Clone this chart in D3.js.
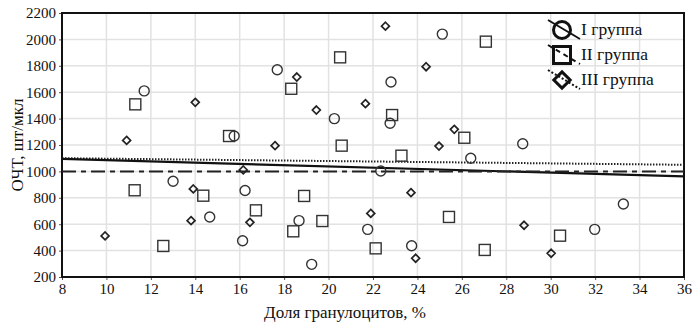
<!DOCTYPE html>
<html lang="ru">
<head>
    <meta charset="UTF-8">
    <script src="https://d3js.org/d3.v7.min.js"></script>
    <style>
        body { margin: 0; background: white; }
        text { font-family: "Liberation Serif", "DejaVu Serif", serif; fill: #111; }
    </style>
</head>
<body>
    <svg id="chart" width="697" height="326"></svg>

    <script>
        // Группа I (кружки)
        const group1 = [
            [11.7, 1610], [13.0, 925], [14.65, 655], [15.75, 1268], [16.13, 475],
            [16.24, 855], [17.69, 1770], [18.67, 627], [19.24, 296], [20.26, 1400],
            [21.76, 561], [22.35, 1003], [22.77, 1365], [22.81, 1677], [23.74, 437],
            [25.12, 2040], [26.4, 1100], [28.74, 1210], [31.98, 561], [33.27, 753]
        ];
        // Группа II (квадраты)
        const group2 = [
            [11.3, 1508], [11.27, 857], [12.56, 435], [14.36, 816], [15.52, 1268],
            [16.73, 705], [18.32, 1626], [18.41, 546], [18.9, 814], [19.72, 624],
            [20.52, 1864], [20.59, 1195], [22.12, 417], [22.86, 1427], [23.28, 1119],
            [25.42, 655], [26.11, 1255], [27.03, 405], [27.08, 1983], [30.42, 513]
        ];
        // Группа III (ромбы)
        const group3 = [
            [9.94, 511], [10.91, 1235], [13.81, 627], [13.91, 867], [14.0, 1523],
            [16.16, 1011], [16.46, 614], [17.59, 1195], [18.57, 1715], [19.45, 1465],
            [21.66, 1513], [21.9, 682], [22.56, 2100], [23.71, 839], [23.92, 342],
            [24.39, 1793], [24.97, 1192], [25.66, 1319], [28.8, 592], [30.02, 380]
        ];
        // линии тренда: значения при x = 8 и x = 36
        const trend1 = [[8, 1095], [36, 962]];
        const trend2 = [[8, 1000], [36, 1000]];
        const trend3 = [[8, 1100], [36, 1050]];

        const xTicks = d3.range(8, 37, 2);
        const yTicks = d3.range(200, 2201, 200);
        const legendLabels = ["I группа", "II группа", "III группа"];

        const serif = "'Liberation Serif', 'DejaVu Serif', serif";
        const svg = d3.select("#chart");
        const margin = { top: 13, right: 13, bottom: 49, left: 62 };
        const width = 697, height = 326;

        const x = d3.scaleLinear().domain([8, 36]).range([margin.left, width - margin.right]);
        const y = d3.scaleLinear().domain([200, 2200]).range([height - margin.bottom, margin.top]);

        // сетка
        svg.append("g")
            .selectAll("line.v")
            .data(xTicks.slice(1, -1))
            .enter().append("line")
            .attr("x1", d => x(d)).attr("x2", d => x(d))
            .attr("y1", y(200)).attr("y2", y(2200))
            .attr("stroke", "#e2e2e2").attr("stroke-width", 1.5);
        svg.append("g")
            .selectAll("line.h")
            .data(yTicks.slice(1, -1))
            .enter().append("line")
            .attr("x1", x(8)).attr("x2", x(36))
            .attr("y1", d => y(d)).attr("y2", d => y(d))
            .attr("stroke", "#e2e2e2").attr("stroke-width", 1.5);

        // оси
        const yAxis = svg.append("g")
            .attr("transform", `translate(${margin.left},0)`)
            .call(d3.axisLeft(y).tickValues(yTicks).tickFormat(d3.format("d")).tickSize(3).tickPadding(3));
        const xAxis = svg.append("g")
            .attr("transform", `translate(0,${height - margin.bottom})`)
            .call(d3.axisBottom(x).tickValues(xTicks).tickFormat(d3.format("d")).tickSize(3).tickPadding(3));
        [yAxis, xAxis].forEach(g => {
            g.attr("font-family", serif).attr("font-size", 15);
            g.select(".domain").remove();
            g.selectAll(".tick line").attr("stroke", "#555");
            g.selectAll("text").style("font-size", "15px")
                .style("font-family", serif).attr("fill", "#111");
        });

        // рамка
        svg.append("rect")
            .attr("x", x(8)).attr("y", y(2200))
            .attr("width", x(36) - x(8)).attr("height", y(200) - y(2200))
            .attr("fill", "none").attr("stroke", "#111").attr("stroke-width", 2);

        // линии тренда
        const line = d3.line().x(d => x(d[0])).y(d => y(d[1]));
        svg.append("path").datum(trend3).attr("d", line)
            .attr("fill", "none").attr("stroke", "#222").attr("stroke-width", 2)
            .attr("stroke-dasharray", "1.5,1.5");
        svg.append("path").datum(trend1).attr("d", line)
            .attr("fill", "none").attr("stroke", "#111").attr("stroke-width", 2.2);
        svg.append("path").datum(trend2).attr("d", line)
            .attr("fill", "none").attr("stroke", "#222").attr("stroke-width", 2)
            .attr("stroke-dasharray", "14,5,5,5");

        // точки
        svg.selectAll(".c1").data(group1).enter().append("circle")
            .attr("cx", d => x(d[0])).attr("cy", d => y(d[1])).attr("r", 5)
            .attr("fill", "none").attr("stroke", "#333").attr("stroke-width", 1.4);
        svg.selectAll(".s2").data(group2).enter().append("rect")
            .attr("x", d => x(d[0]) - 5.5).attr("y", d => y(d[1]) - 5.5)
            .attr("width", 11).attr("height", 11)
            .attr("fill", "none").attr("stroke", "#333").attr("stroke-width", 1.4);
        svg.selectAll(".d3").data(group3).enter().append("path")
            .attr("d", d3.symbol(d3.symbolDiamond2, 40))
            .attr("transform", d => `translate(${x(d[0])},${y(d[1])})`)
            .attr("fill", "none").attr("stroke", "#222").attr("stroke-width", 1.7);

        // легенда
        const lg = svg.append("g");
        const ly = [30, 55, 80], lx = 562;
        const dashes = [null, "5,4", "2,2"];
        lg.selectAll("line").data(ly).enter().append("line")
            .attr("x1", lx - 14).attr("y1", d => d - 10)
            .attr("x2", lx + 18).attr("y2", d => d + 9)
            .attr("stroke", "#111").attr("stroke-width", 2)
            .attr("stroke-dasharray", (d, i) => dashes[i]);
        lg.append("circle").attr("cx", lx).attr("cy", ly[0]).attr("r", 8.5)
            .attr("fill", "none").attr("stroke", "#111").attr("stroke-width", 3);
        lg.append("rect").attr("x", lx - 8.5).attr("y", ly[1] - 8.5)
            .attr("width", 17).attr("height", 17)
            .attr("fill", "none").attr("stroke", "#111").attr("stroke-width", 3);
        lg.append("path").attr("d", d3.symbol(d3.symbolDiamond2, 170))
            .attr("transform", `translate(${lx},${ly[2]})`)
            .attr("fill", "none").attr("stroke", "#111").attr("stroke-width", 3);
        lg.selectAll("text").data(legendLabels).enter().append("text")
            .attr("x", 581).attr("y", (d, i) => ly[i] + 5)
            .style("font-size", "17.5px")
            .text(d => d);

        // подписи осей
        svg.append("text")
            .attr("transform", `translate(23,145) rotate(-90)`)
            .attr("text-anchor", "middle")
            .style("font-size", "17px")
            .text("ОЧТ, шт/мкл");
        svg.append("text")
            .attr("x", 345).attr("y", 318)
            .attr("text-anchor", "middle")
            .style("font-size", "17px")
            .text("Доля гранулоцитов, %");
    </script>
</body>
</html>
